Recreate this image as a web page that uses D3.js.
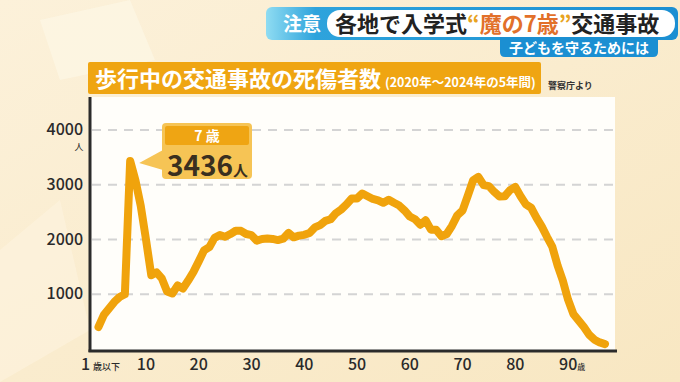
<!DOCTYPE html>
<html>
<head>
<meta charset="utf-8">
<script src="https://cdn.jsdelivr.net/npm/d3@7"></script>
<style>
body { margin:0; background:#faecce; }
svg { display:block; font-family:"Noto Sans CJK JP","Noto Sans",sans-serif; }
</style>
</head>
<body>
<div id="chart-area"></div>
<script>
// ages (1 = 1歳以下) and pedestrians killed or injured, 2020-2024 total
var ages = [1,2,3,4,5,6,7,8,9,10,11,12,13,14,15,16,17,18,19,20,
	21,22,23,24,25,26,27,28,29,30,31,32,33,34,35,36,37,38,39,40,
	41,42,43,44,45,46,47,48,49,50,51,52,53,54,55,56,57,58,59,60,
	61,62,63,64,65,66,67,68,69,70,71,72,73,74,75,76,77,78,79,80,
	81,82,83,84,85,86,87,88,89,90,91,92,93,94,95,96,97];
var casualties = [402,620,740,860,950,1000,3436,3080,2620,2000,
	1347,1400,1290,1050,1013,1160,1104,1250,1408,1600,
	1800,1860,2030,2080,2050,2100,2160,2158,2100,2079,
	1980,2010,2018,2010,1990,2015,2120,2040,2070,2085,
	2120,2220,2262,2340,2370,2480,2548,2640,2749,2749,
	2840,2790,2740,2715,2670,2725,2670,2620,2530,2420,
	2370,2270,2350,2180,2180,2060,2100,2250,2440,2530,
	2800,3080,3144,2993,2975,2870,2785,2790,2900,2960,
	2790,2640,2580,2400,2240,2050,1870,1530,1250,900,
	640,520,400,260,170,120,90];
var yTicks = [1000,2000,3000,4000];
var xTicks = [10,20,30,40,50,60,70,80];
var peakAge = 7, peakValue = 3436;

var W = 680, H = 382;
var svg = d3.select("#chart-area").append("svg")
	.attr("width", W).attr("height", H);

var defs = svg.append("defs");
var bg = defs.append("linearGradient").attr("id","bg").attr("x1",0).attr("y1",0).attr("x2",1).attr("y2",1);
bg.append("stop").attr("offset","0%").attr("stop-color","#fcf1da");
bg.append("stop").attr("offset","100%").attr("stop-color","#f8e7c2");
var rib = defs.append("linearGradient").attr("id","rib").attr("x1",0).attr("x2",1);
rib.append("stop").attr("offset","0%").attr("stop-color","#8fdcf2");
rib.append("stop").attr("offset","12%").attr("stop-color","#2ea3dc");
rib.append("stop").attr("offset","100%").attr("stop-color","#1b8fd2");

svg.append("rect").attr("width",W).attr("height",H).attr("fill","url(#bg)");
// soft pale shapes in the background
svg.append("path").attr("d","M40,20 L130,0 L155,60 L60,80 Z").attr("fill","#fdf6e4").attr("opacity",0.8);
svg.append("path").attr("d","M0,250 L60,200 L90,330 L0,382 Z").attr("fill","#fdf4e0").attr("opacity",0.6);

// ---- headline banner ----
svg.append("rect").attr("x",266).attr("y",7).attr("width",412).attr("height",33).attr("rx",6).attr("fill","url(#rib)");
svg.append("path").attr("d","M500,36 L658,36 L658,52 Q658,57 653,57 L505,57 Q500,57 500,52 Z").attr("fill","#1b8fd2");
svg.append("rect").attr("x",327).attr("y",10).attr("width",348).attr("height",27).attr("rx",13).attr("fill","#ffffff");
svg.append("text").attr("x",302).attr("y",31).attr("text-anchor","middle")
	.attr("font-size",19).attr("font-weight",700).attr("fill","#fff").text("注意");
var head = svg.append("text").attr("x",335).attr("y",32)
	.attr("font-size",22).attr("font-weight",700).attr("fill","#222");
head.append("tspan").text("各地で入学式");
head.append("tspan").attr("fill","#e8a321").text("“");
head.append("tspan").attr("fill","#e2702a").text("魔の7歳");
head.append("tspan").attr("fill","#e8a321").text("”");
head.append("tspan").text("交通事故");
svg.append("text").attr("x",579).attr("y",53).attr("text-anchor","middle")
	.attr("font-size",14).attr("font-weight",700).attr("fill","#fff").text("子どもを守るためには");

// ---- chart title ----
svg.append("rect").attr("x",88).attr("y",62).attr("width",453).attr("height",32).attr("rx",2).attr("fill","#efa512");
var t1 = svg.append("text").attr("x",95).attr("y",87)
	.attr("font-size",22).attr("font-weight",700).attr("fill","#fff");
t1.append("tspan").text("歩行中の交通事故の死傷者数");
t1.append("tspan").attr("font-size",12.5).attr("dx",4).text("(2020年～2024年の5年間)");
svg.append("text").attr("x",548).attr("y",89)
	.attr("font-size",9).attr("font-weight",700).attr("fill","#333").text("警察庁より");

// ---- plot ----
var x = d3.scaleLinear().domain([1,97]).range([98.5,605]);
var y = d3.scaleLinear().domain([0,4000]).range([349,130]);

svg.append("rect").attr("x",90).attr("y",97).attr("width",525).attr("height",253).attr("fill","#fffefa");

svg.append("g").selectAll("line").data(yTicks).enter().append("line")
	.attr("x1",92).attr("x2",613)
	.attr("y1",function(d){ return y(d); }).attr("y2",function(d){ return y(d); })
	.attr("stroke","#d4d4d4").attr("stroke-width",2).attr("stroke-dasharray","9,7");

// y labels
svg.append("g").selectAll("text").data(yTicks).enter().append("text")
	.attr("x",83).attr("y",function(d){ return y(d)+5; })
	.attr("text-anchor","end").attr("font-size",16).attr("font-weight",500).attr("fill","#2a2a2a")
	.text(function(d){ return d; });
svg.append("text").attr("x",79).attr("y",y(4000)+20).attr("text-anchor","middle")
	.attr("font-size",9).attr("fill","#2a2a2a").text("人");

// x labels
svg.append("g").selectAll("text").data(xTicks).enter().append("text")
	.attr("x",function(d){ return x(d); }).attr("y",370)
	.attr("text-anchor","middle").attr("font-size",16).attr("font-weight",500).attr("fill","#2a2a2a")
	.text(function(d){ return d; });
var first = svg.append("text").attr("x",x(1)+2).attr("y",370).attr("text-anchor","middle")
	.attr("font-weight",500).attr("fill","#2a2a2a");
first.append("tspan").attr("font-size",16).text("1");
first.append("tspan").attr("font-size",9).attr("dx",3).text("歳以下");
var last = svg.append("text").attr("x",x(90)-9).attr("y",370)
	.attr("font-weight",500).attr("fill","#2a2a2a");
last.append("tspan").attr("font-size",16).text("90");
last.append("tspan").attr("font-size",8).text("歳");

// axes lines
svg.append("line").attr("x1",90).attr("x2",90).attr("y1",97).attr("y2",352)
	.attr("stroke","#2b2b2b").attr("stroke-width",3);
svg.append("line").attr("x1",88.5).attr("x2",617).attr("y1",351).attr("y2",351)
	.attr("stroke","#2b2b2b").attr("stroke-width",3);

// the line
var line = d3.line()
	.x(function(d,i){ return x(ages[i]); })
	.y(function(d){ return y(d); });
svg.append("path").datum(casualties)
	.attr("d", line)
	.attr("fill","none").attr("stroke","#f0a30c").attr("stroke-width",8)
	.attr("stroke-linejoin","round").attr("stroke-linecap","round");

// ---- callout for 7 years ----
var px = x(peakAge), py = y(peakValue);
var bx = 162, by = 123, bw = 90, bh = 56;
var call = svg.append("g");
call.append("path")
	.attr("d","M"+(bx+1)+","+(py-11)+" L"+(px+9)+","+(py+2)+" L"+(bx+1)+","+(py+9)+" Z")
	.attr("fill","#f6c455");
call.append("rect").attr("x",bx).attr("y",by).attr("width",bw).attr("height",bh).attr("rx",4).attr("fill","#f6c455");
call.append("rect").attr("x",bx+3).attr("y",by+3).attr("width",bw-6).attr("height",19).attr("rx",2).attr("fill","#efa513");
call.append("text").attr("x",bx+bw/2).attr("y",by+18).attr("text-anchor","middle")
	.attr("font-size",14).attr("font-weight",700).attr("fill","#fff").text(peakAge+" 歳");
var val = call.append("text").attr("x",bx+5).attr("y",by+53)
	.attr("font-weight",700).attr("fill","#3a2f1f");
val.append("tspan").attr("font-size",28).text(peakValue);
val.append("tspan").attr("font-size",15).text("人");
</script>
</body>
</html>
